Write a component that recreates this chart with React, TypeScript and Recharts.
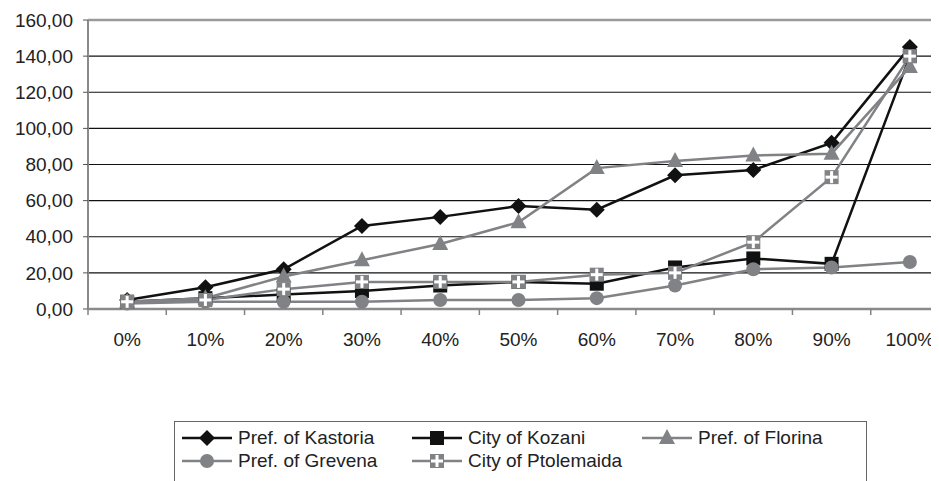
import React from 'react';
import { LineChart, Line, XAxis, YAxis, CartesianGrid, ReferenceLine } from 'recharts';

const categories = ['0%', '10%', '20%', '30%', '40%', '50%', '60%', '70%', '80%', '90%', '100%'];

const kastoria = [5, 12, 22, 46, 51, 57, 55, 74, 77, 92, 145];
const kozani = [4, 6, 8, 10, 13, 15, 14, 23, 28, 25, 140];
const florina = [4, 6, 18, 27, 36, 48, 78, 82, 85, 86, 134];
const grevena = [3, 4, 4, 4, 5, 5, 6, 13, 22, 23, 26];
const ptolemaida = [4, 5, 11, 15, 15, 15, 19, 20, 37, 73, 140];

const yTicks = [0, 20, 40, 60, 80, 100, 120, 140, 160];

const BLACK = '#111111';
const GRAY = '#808285';
const FONT = '"Liberation Sans", Arial, sans-serif';
const FS = 19;

type MarkerKind = 'diamond' | 'square' | 'triangle' | 'circle' | 'cross';

const series: { key: string; name: string; color: string; marker: MarkerKind; values: number[] }[] = [
  { key: 'kastoria', name: 'Pref. of Kastoria', color: BLACK, marker: 'diamond', values: kastoria },
  { key: 'kozani', name: 'City of Kozani', color: BLACK, marker: 'square', values: kozani },
  { key: 'florina', name: 'Pref. of Florina', color: GRAY, marker: 'triangle', values: florina },
  { key: 'grevena', name: 'Pref. of Grevena', color: GRAY, marker: 'circle', values: grevena },
  { key: 'ptolemaida', name: 'City of Ptolemaida', color: GRAY, marker: 'cross', values: ptolemaida },
];

const data = categories.map((c, i) => {
  const row: Record<string, string | number> = { cat: c };
  series.forEach((s) => {
    row[s.key] = s.values[i];
  });
  return row;
});

const Marker = ({ kind, cx, cy, color }: { kind: MarkerKind; cx: number; cy: number; color: string }) => {
  switch (kind) {
    case 'diamond':
      return <polygon points={`${cx},${cy - 8} ${cx + 8},${cy} ${cx},${cy + 8} ${cx - 8},${cy}`} fill={color} />;
    case 'square':
      return <rect x={cx - 7} y={cy - 7} width={14} height={14} fill={color} />;
    case 'triangle':
      return <polygon points={`${cx},${cy - 9} ${cx + 8},${cy + 6} ${cx - 8},${cy + 6}`} fill={color} />;
    case 'circle':
      return <circle cx={cx} cy={cy} r={7} fill={color} />;
    case 'cross':
      return (
        <g>
          <rect x={cx - 7} y={cy - 7} width={14} height={14} fill={color} />
          <rect x={cx - 1.5} y={cy - 6} width={3} height={12} fill="#fff" />
          <rect x={cx - 6} y={cy - 1.5} width={12} height={3} fill="#fff" />
        </g>
      );
    default:
      return null;
  }
};

const makeDot = (kind: MarkerKind, color: string) => (props: any) => {
  const { cx, cy, index } = props;
  if (cx == null || cy == null) return <g key={index} />;
  return <Marker key={index} kind={kind} cx={cx} cy={cy} color={color} />;
};

const BAND = 861 / categories.length;

const XTick = (props: any) => {
  const { x, y, payload, index } = props;
  const axisY = y - 8;
  return (
    <g>
      <line x1={x - BAND / 2} y1={axisY} x2={x - BAND / 2} y2={axisY + 6} stroke={GRAY} strokeWidth={1.5} />
      {index === categories.length - 1 && (
        <line x1={x + BAND / 2} y1={axisY} x2={x + BAND / 2} y2={axisY + 6} stroke={GRAY} strokeWidth={1.5} />
      )}
      <text x={x} y={axisY + 37} textAnchor="middle" fill="#222" fontSize={FS} fontFamily={FONT}>
        {payload.value}
      </text>
    </g>
  );
};

const LegendBox = () => (
  <div
    style={{
      position: 'absolute',
      left: 166,
      top: 413,
      width: 693,
      height: 80,
      border: '1px solid #666',
      boxSizing: 'border-box',
      fontFamily: FONT,
      fontSize: FS,
      color: '#222',
    }}
  >
    {series.map((s, i) => {
      const col = i % 3;
      const row = Math.floor(i / 3);
      return (
        <div
          key={s.key}
          style={{
            position: 'absolute',
            left: 7 + col * 230,
            top: 5 + row * 23,
            height: 22,
            display: 'flex',
            alignItems: 'center',
            whiteSpace: 'nowrap',
          }}
        >
          <svg width={52} height={20} style={{ marginRight: 4 }}>
            <line x1={0} y1={10} x2={50} y2={10} stroke={s.color} strokeWidth={2.5} />
            <Marker kind={s.marker} cx={25} cy={10} color={s.color} />
          </svg>
          <span>{s.name}</span>
        </div>
      );
    })}
  </div>
);

export default function App() {
  return (
    <div style={{ position: 'relative', width: 931, height: 473, overflow: 'hidden', background: '#fff' }}>
      <LineChart width={941} height={473} data={data} margin={{ top: 12, right: 0, bottom: 142, left: 0 }}>
        <CartesianGrid vertical={false} stroke={BLACK} strokeWidth={1.2} />
        <ReferenceLine y={160} stroke="#9a9a9a" strokeWidth={2.5} />
        <XAxis
          dataKey="cat"
          axisLine={{ stroke: '#8a8a8a', strokeWidth: 2.5 }}
          tickLine={false}
          tick={<XTick />}
          interval={0}
          height={30}
          padding={{ left: BAND / 2, right: BAND / 2 }}
        />
        <YAxis
          width={80}
          domain={[0, 160]}
          ticks={yTicks}
          interval={0}
          axisLine={{ stroke: '#8a8a8a', strokeWidth: 2 }}
          tickLine={{ stroke: '#555' }}
          tickSize={5}
          tickMargin={10}
          tick={{ fill: '#222', fontSize: FS, fontFamily: FONT }}
          tickFormatter={(v: number) => v.toFixed(2).replace('.', ',')}
        />
        {series.map((s) => (
          <Line
            key={s.key}
            dataKey={s.key}
            name={s.name}
            stroke={s.color}
            strokeWidth={2.5}
            dot={makeDot(s.marker, s.color)}
            activeDot={false}
            isAnimationActive={false}
          />
        ))}
      </LineChart>
      <LegendBox />
    </div>
  );
}
